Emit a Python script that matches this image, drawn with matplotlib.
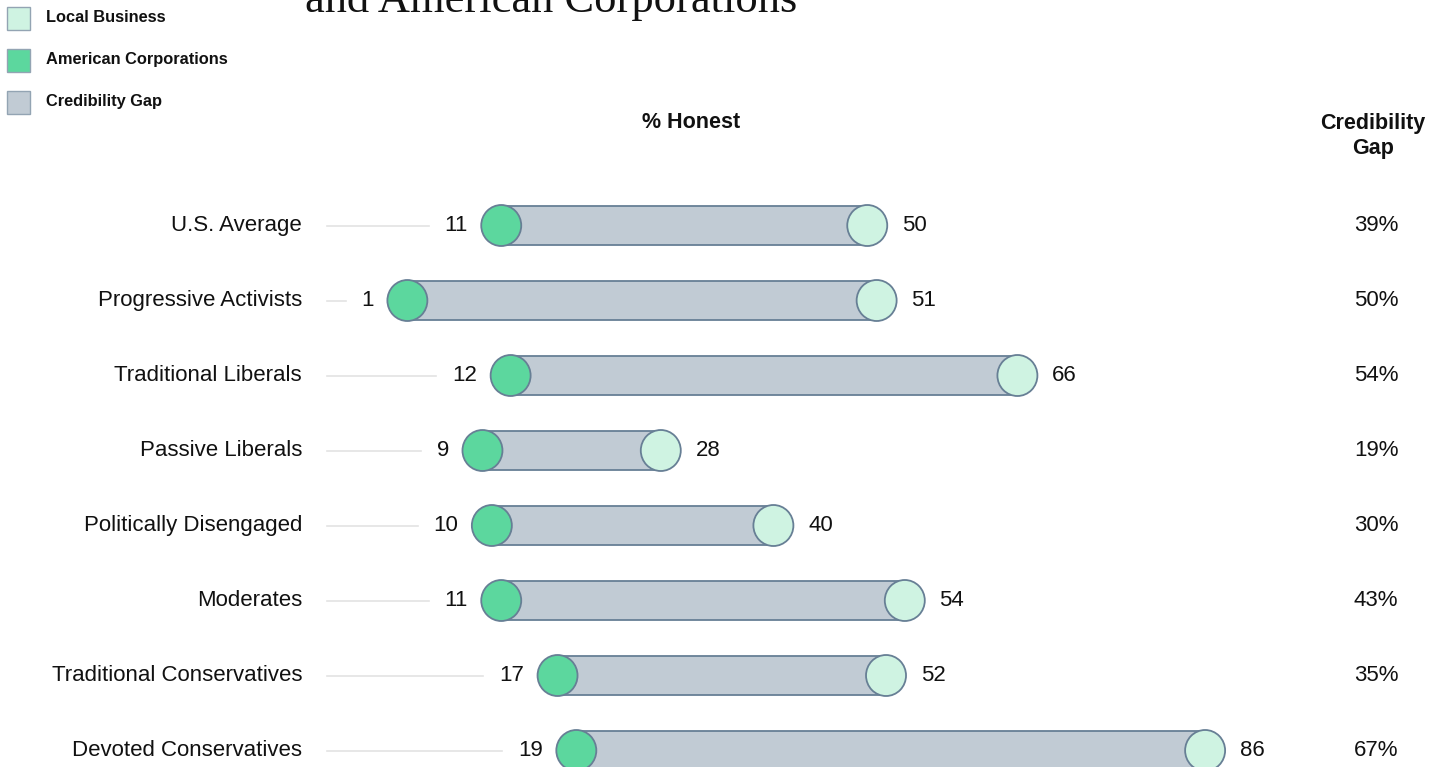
import matplotlib
matplotlib.use("Agg")
import matplotlib.pyplot as plt
from matplotlib.patches import Ellipse, Rectangle

categories = ["U.S. Average", "Progressive Activists", "Traditional Liberals",
              "Passive Liberals", "Politically Disengaged", "Moderates",
              "Traditional Conservatives", "Devoted Conservatives"]
american_corps = [11, 1, 12, 9, 10, 11, 17, 19]
local_business = [50, 51, 66, 28, 40, 54, 52, 86]
gap_labels = ["39%", "50%", "54%", "19%", "30%", "43%", "35%", "67%"]
legend_labels = ["Local Business", "American Corporations", "Credibility Gap"]

C_LOCAL = "#CFF3E2"
C_CORP = "#5CD79E"
C_GAP = "#C1CBD4"
C_EDGE = "#677F95"

W, H, DPI = 1445, 767, 100
FONT = "Liberation Sans"
FS = 16

fig = plt.figure(figsize=(W / DPI, H / DPI), dpi=DPI)
ax = fig.add_axes([0, 0, 1, 1])
ax.set_axis_off()

# pixel mapping: x px = 398 + 9.385*v ; y px (from top) = 225 + 75*i
PX_PER_UNIT = 9.385
X0 = 398
Y0 = 225.5
ax.set_xlim(-X0 / PX_PER_UNIT, (W - X0) / PX_PER_UNIT)
ax.set_ylim((H - Y0) / 75, -Y0 / 75)

ew = 40 / PX_PER_UNIT
eh = 41 / 75
rh = 39 / 75

fig.canvas.draw()
renderer = fig.canvas.get_renderer()

def px_to_x(px):
    return (px - X0) / PX_PER_UNIT

def py_to_y(py):
    return (py - Y0) / 75

for i, (cat, lo, hi, g) in enumerate(zip(categories, american_corps, local_business, gap_labels)):
    ax.add_patch(Rectangle((lo, i - rh / 2), hi - lo, rh, facecolor=C_GAP,
                           edgecolor=C_EDGE, lw=1.3, zorder=2))
    ax.add_patch(Ellipse((hi, i), ew, eh, facecolor=C_LOCAL, edgecolor=C_EDGE, lw=1.3, zorder=3))
    ax.add_patch(Ellipse((lo, i), ew, eh, facecolor=C_CORP, edgecolor=C_EDGE, lw=1.3, zorder=3))

    ax.text(px_to_x(302), i, cat, ha="right", va="center", fontsize=FS,
            family=FONT, color="#111111")
    tl = ax.annotate(str(lo), (lo, i), xytext=(-24, 0), textcoords="offset points",
                     ha="right", va="center", fontsize=FS, family=FONT, color="#111111")
    ax.annotate(str(hi), (hi, i), xytext=(25, 0), textcoords="offset points",
                ha="left", va="center", fontsize=FS, family=FONT, color="#111111")
    ax.text(px_to_x(1376), i, g, ha="center", va="center", fontsize=FS,
            family=FONT, color="#111111")
    bb = tl.get_window_extent(renderer)
    xend = (bb.x0 - 16 - X0) / PX_PER_UNIT
    ax.plot([px_to_x(327), xend], [i, i], color="#E3E3E3", lw=1.2, zorder=1)

# headers
ax.text(px_to_x(691), py_to_y(123), "% Honest", ha="center", va="center",
        fontsize=15.5, fontweight="bold", family=FONT, color="#111111")
ax.text(px_to_x(1373), py_to_y(136), "Credibility\nGap", ha="center", va="center",
        fontsize=15.5, fontweight="bold", family=FONT, color="#111111", linespacing=1.25)

# title (partially cut off at top, as in the reference)
fig.text(305 / W, 1 - 12 / H, "and American Corporations", ha="left", va="baseline",
         fontsize=32, family="Liberation Serif", color="#111111")

# legend
for k, (lab, col) in enumerate(zip(legend_labels, [C_LOCAL, C_CORP, C_GAP])):
    yc = 18.5 + 42 * k
    fig.patches.append(Rectangle((7 / W, 1 - (yc + 11.5) / H), 23 / W, 23 / H,
                                 transform=fig.transFigure, facecolor=col,
                                 edgecolor="#93A4B3", lw=1.0))
    fig.text(46 / W, 1 - (yc - 1) / H, lab, ha="left", va="center", fontsize=11.8,
             fontweight="bold", family=FONT, color="#111111")

fig.savefig("out.png", dpi=DPI)
